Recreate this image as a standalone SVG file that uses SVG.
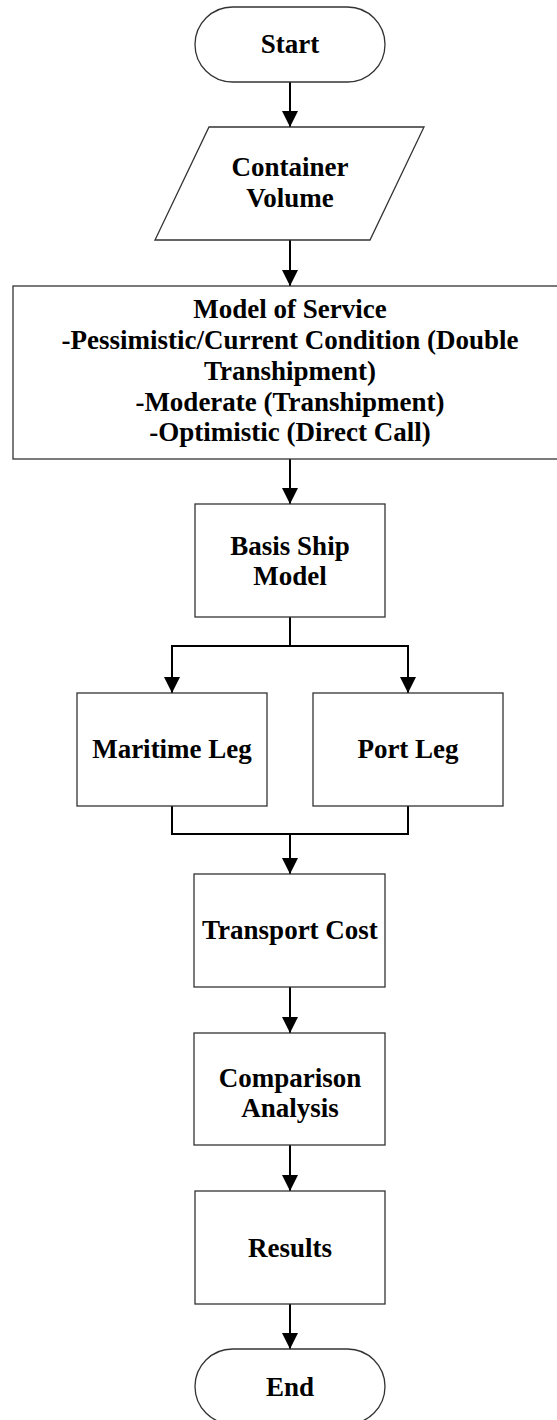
<svg xmlns="http://www.w3.org/2000/svg" width="557" height="1420" viewBox="0 0 557 1420">
<style>
.shape{fill:#fff;stroke:#333;stroke-width:1.3}
.lbl{font-family:"Liberation Serif","Times New Roman",serif;font-weight:bold;font-size:27px;fill:#000;text-anchor:middle}
.conn{fill:none;stroke:#000;stroke-width:2}
</style>
<defs>
<marker id="arr" markerUnits="userSpaceOnUse" markerWidth="16" markerHeight="16" viewBox="0 0 16 16" refX="8" refY="16" orient="0">
<path d="M0,0 L16,0 L8,16 Z" fill="#000"/>
</marker>
</defs>
<rect width="557" height="1420" fill="#fff"/>
<g id="connectors">
<line class="conn" x1="290" y1="82" x2="290" y2="127" marker-end="url(#arr)"/>
<line class="conn" x1="290" y1="240" x2="290" y2="286" marker-end="url(#arr)"/>
<line class="conn" x1="290" y1="459" x2="290" y2="504" marker-end="url(#arr)"/>
<polyline class="conn" points="290,617 290,646 172,646 172,693" marker-end="url(#arr)"/>
<polyline class="conn" points="290,646 408,646 408,693" marker-end="url(#arr)"/>
<polyline class="conn" points="172,806 172,834 408,834 408,806"/>
<line class="conn" x1="290" y1="834" x2="290" y2="874" marker-end="url(#arr)"/>
<line class="conn" x1="290" y1="987" x2="290" y2="1033" marker-end="url(#arr)"/>
<line class="conn" x1="290" y1="1145" x2="290" y2="1191" marker-end="url(#arr)"/>
<line class="conn" x1="290" y1="1304" x2="290" y2="1349" marker-end="url(#arr)"/>
</g>
<g id="start">
<rect class="shape" x="195" y="7" width="190" height="75" rx="37.5" ry="37.5"/>
<text class="lbl" x="290" y="53">Start</text>
</g>
<g id="container-volume">
<polygon class="shape" points="209,127 424,127 370,240 155,240"/>
<text class="lbl" x="290" y="176">Container</text>
<text class="lbl" x="290" y="207">Volume</text>
</g>
<g id="model-of-service">
<rect class="shape" x="13" y="286" width="553" height="173"/>
<text class="lbl" x="290" y="318">Model of Service</text>
<text class="lbl" x="290" y="349">-Pessimistic/Current Condition (Double</text>
<text class="lbl" x="290" y="380">Transhipment)</text>
<text class="lbl" x="290" y="411">-Moderate (Transhipment)</text>
<text class="lbl" x="290" y="441">-Optimistic (Direct Call)</text>
</g>
<g id="basis-ship-model">
<rect class="shape" x="195" y="504" width="190" height="113"/>
<text class="lbl" x="290" y="555">Basis Ship</text>
<text class="lbl" x="290" y="585">Model</text>
</g>
<g id="maritime-leg">
<rect class="shape" x="77" y="693" width="190" height="113"/>
<text class="lbl" x="172" y="758">Maritime Leg</text>
</g>
<g id="port-leg">
<rect class="shape" x="313" y="693" width="190" height="113"/>
<text class="lbl" x="408" y="758">Port Leg</text>
</g>
<g id="transport-cost">
<rect class="shape" x="194" y="874" width="191" height="113"/>
<text class="lbl" x="290" y="939">Transport Cost</text>
</g>
<g id="comparison-analysis">
<rect class="shape" x="194" y="1033" width="191" height="112"/>
<text class="lbl" x="290" y="1087">Comparison</text>
<text class="lbl" x="290" y="1117">Analysis</text>
</g>
<g id="results">
<rect class="shape" x="195" y="1191" width="190" height="113"/>
<text class="lbl" x="290" y="1257">Results</text>
</g>
<g id="end">
<rect class="shape" x="195" y="1349" width="190" height="75" rx="37.5" ry="37.5"/>
<text class="lbl" x="290" y="1396">End</text>
</g>
</svg>
